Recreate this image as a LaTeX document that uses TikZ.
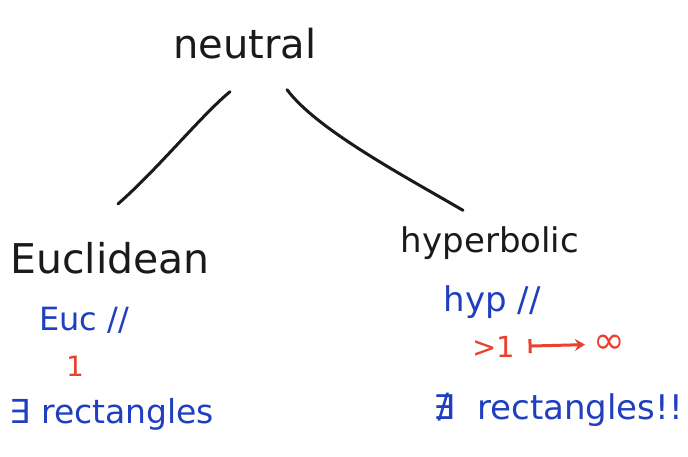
\documentclass[tikz,border=0pt]{standalone}
\usepackage{fontspec}
\setmainfont{DejaVu Sans}
\usetikzlibrary{arrows.meta,calc}
\definecolor{inkblue}{HTML}{1F3FC0}
\definecolor{inkred}{HTML}{E8412F}
\definecolor{inkblack}{HTML}{1A1A1A}
\tikzset{
  lbl/.style={inner sep=0pt, text=inkblack},
  bluelbl/.style={inner sep=0pt, text=inkblue},
  redlbl/.style={inner sep=0pt, text=inkred},
  edge/.style={draw=inkblack, line width=3pt, line cap=round},
  redarrow/.style={draw=inkred, line width=3pt, line cap=round, {Bar[width=14pt]}-{Stealth[length=10pt,width=12pt]}, shorten <=13pt, shorten >=8pt},
}
\begin{document}
\begin{tikzpicture}[x=1pt,y=-1pt]
\path[use as bounding box, fill=white] (0,0) rectangle (688,457);
\node[lbl, font=\fontsize{40}{44}\selectfont] (neutral) at (245,44) {neutral};
\node[lbl, font=\fontsize{41}{45}\selectfont] (euclid) at (110,258) {Euclidean};
\node[lbl, font=\fontsize{34}{38}\selectfont] (hyper) at (490,243) {hyperbolic};
\node[bluelbl, font=\fontsize{32}{36}\selectfont] (eucpar) at (84,320) {Euc //};
\node[redlbl, font=\fontsize{28}{32}\selectfont] (one) at (75,366) {1};
\node[bluelbl, font=\fontsize{33}{37}\selectfont] (exists) at (112,414) {∃ rectangles};
\node[bluelbl, font=\fontsize{34}{38}\selectfont] (hyppar) at (492,302) {hyp //};
\node[redlbl, font=\fontsize{29}{32}\selectfont] (gt) at (494,347) {>1};
\node[redlbl, font=\fontsize{38}{42}\selectfont] (inf) at (609,344) {∞};
\node[bluelbl, font=\fontsize{34}{38}\selectfont] (nexists) at (558,410) {∄\hspace{0.35em} rectangles!!};
\coordinate (ltop) at ($(neutral.south)+(-15,32)$);
\coordinate (lbot) at ($(euclid.north)+(8,-38)$);
\coordinate (rtop) at ($(neutral.south)+(42,30)$);
\coordinate (rbot) at ($(hyper.north)+(-27,-16)$);
\draw[edge] (ltop) .. controls +(-30,25) and +(40,-35) .. (lbot);
\draw[edge] (rtop) .. controls +(30,40) and +(-60,-35) .. (rbot);
\draw[redarrow] (gt) -- (inf);
\end{tikzpicture}
\end{document}
